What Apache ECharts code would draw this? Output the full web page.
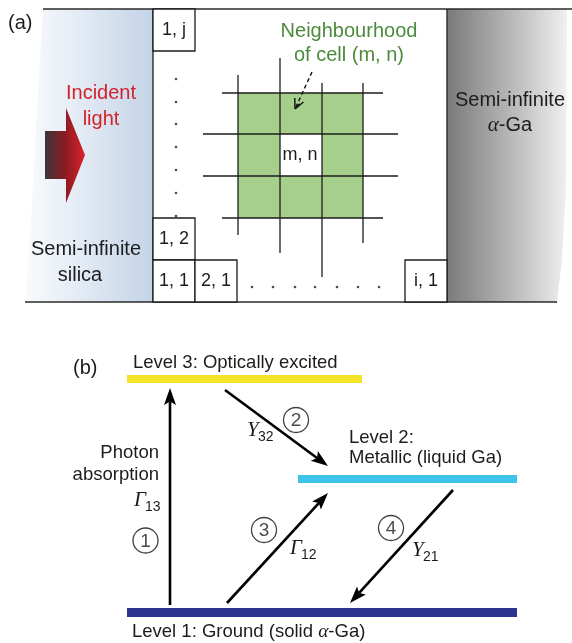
<!DOCTYPE html>
<html>
<head>
<meta charset="utf-8">
<script src="https://cdn.jsdelivr.net/npm/echarts@6/dist/echarts.min.js"></script>
<style>
  html, body { margin: 0; padding: 0; background: #ffffff; }
  #chart { width: 572px; height: 643px; }
</style>
</head>
<body>
<div id="chart"></div>
<script>
// Diagram geometry is expressed in diagram units on a hidden 572 x 643 value plane.

// ---------- Panel (a): cellular model of the gallium / silica interface ----------
const frameLines = [[43, 9, 572, 9], [25, 302, 557, 302], [153, 9, 153, 302], [447, 9, 447, 302]];
const silicaOutline = [[43, 9], [153, 9], [153, 302], [25, 302], [31, 220], [37, 110]];
const galliumOutline = [[447, 9], [567, 9], [566, 190], [562, 260], [557, 302], [447, 302]];
const lightArrowOutline = [[45, 131], [66, 131], [66, 108], [85, 155], [66, 203], [66, 179], [45, 179]];

const boundaryCellLabels = ['1, j', '1, 2', '1, 1', '2, 1', 'i, 1'];
const boundaryCells = [[153, 9, 195, 51], [153, 218, 195, 260], [153, 260, 195, 302], [195, 260, 237, 302], [405, 260, 447, 302]];

const latticeCols = [238, 280, 322, 363];
const latticeRows = [93, 134, 176, 218];
const centreCell = [1, 1];
const latticeVLines = [[238, 75, 235], [280, 58, 253], [322, 83, 277], [363, 83, 243]];
const latticeHLines = [[93, 222, 383], [134, 203, 398], [176, 203, 398], [218, 222, 383]];
const columnDots = [[176, 79], [176, 102], [176, 124], [176, 147], [176, 170], [176, 193], [176, 216]];
const rowDots = [[252, 287], [273, 287], [295, 287], [315, 287], [337, 287], [358, 287], [379, 287]];
const pointerPath = [312, 72, 295, 109];

const panelTags = ['(a)', '(b)'];
const panelTagAnchors = [[8, 23], [73, 368]];
const incidentLines = ['Incident', 'light'];
const incidentAnchors = [[101, 93], [101, 119]];
const silicaLines = ['Semi-infinite', 'silica'];
const silicaAnchors = [[86, 249], [80, 275]];
const galliumLines = ['Semi-infinite', '{a|α}-Ga'];
const galliumAnchors = [[510, 100], [510, 125]];
const neighbourhoodLines = ['Neighbourhood', 'of cell (m, n)'];
const neighbourhoodAnchors = [[349, 31], [349, 55]];
const centreLabel = 'm, n';
const centreAnchor = [300, 155];

// ---------- Panel (b): three-level transition scheme ----------
const levelSpans = [[127, 362, 379], [298, 517, 479], [127, 517, 612.5]];
const levelLabels = ['Level 3: Optically excited', 'Level 2:', 'Metallic (liquid Ga)', 'Level 1: Ground (solid {a|α}-Ga)'];
const levelLabelAnchors = [[133, 363], [349, 438], [349, 458], [132, 632]];
const transitionPaths = [[170, 605, 170, 388], [225, 390, 328, 466], [227, 603, 328, 493], [453, 490, 350, 603]];
const transitionNumbers = ['1', '2', '3', '4'];
const transitionMarkers = [[145.5, 540.5], [296, 420], [264, 530], [391, 528]];
const rateSymbols = ['Γ', 'Y', 'Γ', 'Y'];
const rateIndices = ['13', '32', '12', '21'];
const rateAnchors = [[134, 500], [247, 430], [290, 548], [412, 550]];
const absorptionLines = ['Photon', 'absorption'];
const absorptionAnchors = [[159, 453], [159, 475]];

// ---------- styles ----------
const SANS = '"Liberation Sans", Arial, Helvetica, sans-serif';
const SERIF = '"Liberation Serif", "DejaVu Serif", serif';
const INK = '#1c1c1c';
const levelColors = ['#f3e42a', '#3fc4e9', '#2b3590'];
const levelWidths = [8, 8, 9];

const chart = echarts.init(document.getElementById('chart'), null, { renderer: 'canvas' });

function pt(api, x, y) { return api.coord([x, y]); }
function segment(api, x1, y1, x2, y2, style) {
  const a = pt(api, x1, y1), b = pt(api, x2, y2);
  return { type: 'line', shape: { x1: a[0], y1: a[1], x2: b[0], y2: b[1] }, style: style };
}
function polygonOf(api, pts, style) {
  return { type: 'polygon', shape: { points: pts.map(p => pt(api, p[0], p[1])) }, style: style };
}
function textAt(api, x, y, text, font, fill, align, rich) {
  const p = pt(api, x, y);
  return { type: 'text', style: { x: p[0], y: p[1], text: text, font: font, fill: fill,
    align: align || 'center', verticalAlign: 'middle', rich: rich || {} } };
}
function arrow(api, path, headLen, headHalf, lineW) {
  const a = pt(api, path[0], path[1]), b = pt(api, path[2], path[3]);
  const dx = b[0] - a[0], dy = b[1] - a[1], len = Math.hypot(dx, dy);
  const ux = dx / len, uy = dy / len, px = -uy, py = ux;
  const base = [b[0] - ux * headLen, b[1] - uy * headLen];
  const notch = [b[0] - ux * headLen * 0.8, b[1] - uy * headLen * 0.8];
  return { type: 'group', children: [
    { type: 'line', shape: { x1: a[0], y1: a[1], x2: notch[0], y2: notch[1] }, style: { stroke: '#000', lineWidth: lineW } },
    { type: 'polygon', shape: { points: [b, [base[0] + px * headHalf, base[1] + py * headHalf], notch, [base[0] - px * headHalf, base[1] - py * headHalf]] },
      style: { fill: '#000' } }
  ] };
}

const alphaRich = (size) => ({ a: { font: 'italic ' + (size + 1) + 'px ' + SERIF, fill: INK } });

const greenCells = [];
for (let i = 0; i < 3; i++) for (let j = 0; j < 3; j++) {
  if (i === centreCell[0] && j === centreCell[1]) continue;
  greenCells.push([i, j]);
}

const option = {
  animation: false,
  backgroundColor: '#ffffff',
  grid: { left: 0, right: 0, top: 0, bottom: 0 },
  xAxis: { type: 'value', min: 0, max: 572, show: false },
  yAxis: { type: 'value', min: 0, max: 643, inverse: true, show: false },
  series: [
    // half-spaces either side of the slab
    {
      type: 'custom', name: 'media', coordinateSystem: 'cartesian2d', silent: true,
      data: [[0, 0], [1, 0]],
      renderItem: (params, api) => {
        if (params.dataIndex === 0) {
          return polygonOf(api, silicaOutline, { fill: new echarts.graphic.LinearGradient(0, 0, 1, 0, [
            { offset: 0, color: '#f9fbfd' }, { offset: 0.45, color: '#e2eaf4' }, { offset: 1, color: '#c3d3e7' }]) });
        }
        return polygonOf(api, galliumOutline, { fill: new echarts.graphic.LinearGradient(0, 0, 1, 0, [
          { offset: 0, color: '#7a7a7a' }, { offset: 0.5, color: '#b4b4b4' }, { offset: 1, color: '#f0f0f0' }]) });
      }
    },
    // incoming light
    {
      type: 'custom', name: 'light', coordinateSystem: 'cartesian2d', silent: true,
      data: [[0, 0]],
      renderItem: (params, api) => polygonOf(api, lightArrowOutline, { fill: new echarts.graphic.LinearGradient(0, 0, 1, 0, [
        { offset: 0, color: '#3a3638' }, { offset: 0.5, color: '#8c1a22' }, { offset: 1, color: '#d7222b' }]) })
    },
    // neighbourhood cells
    {
      type: 'custom', name: 'neighbourhood', coordinateSystem: 'cartesian2d', silent: true,
      data: greenCells,
      renderItem: (params, api) => {
        const c = greenCells[params.dataIndex];
        const a = pt(api, latticeCols[c[0]], latticeRows[c[1]]);
        const b = pt(api, latticeCols[c[0] + 1], latticeRows[c[1] + 1]);
        return { type: 'rect', shape: { x: a[0], y: a[1], width: b[0] - a[0], height: b[1] - a[1] }, style: { fill: '#a7cf8c' } };
      }
    },
    // lattice lines
    {
      type: 'custom', name: 'lattice', coordinateSystem: 'cartesian2d', silent: true,
      data: latticeVLines.concat(latticeHLines).map((_, k) => [k, 0]),
      renderItem: (params, api) => {
        const k = params.dataIndex, st = { stroke: INK, lineWidth: 1.3 };
        if (k < latticeVLines.length) {
          const v = latticeVLines[k];
          return segment(api, v[0], v[1], v[0], v[2], st);
        }
        const h = latticeHLines[k - latticeVLines.length];
        return segment(api, h[1], h[0], h[2], h[0], st);
      }
    },
    // slab boundaries
    {
      type: 'custom', name: 'frame', coordinateSystem: 'cartesian2d', silent: true,
      data: frameLines.map((_, k) => [k, 0]),
      renderItem: (params, api) => {
        const f = frameLines[params.dataIndex];
        return segment(api, f[0], f[1], f[2], f[3], { stroke: '#2a2a2a', lineWidth: 1.4 });
      }
    },
    // boundary cells with indices
    {
      type: 'custom', name: 'cells', coordinateSystem: 'cartesian2d', silent: true,
      data: boundaryCells.map((_, k) => [k, 0]),
      renderItem: (params, api) => {
        const b = boundaryCells[params.dataIndex];
        const a = pt(api, b[0], b[1]), c = pt(api, b[2], b[3]);
        const mid = [(b[0] + b[2]) / 2, (b[1] + b[3]) / 2 + 0.5];
        return { type: 'group', children: [
          { type: 'rect', shape: { x: a[0], y: a[1], width: c[0] - a[0], height: c[1] - a[1] },
            style: { fill: '#ffffff', stroke: INK, lineWidth: 1.3 } },
          textAt(api, mid[0], mid[1], boundaryCellLabels[params.dataIndex], '18px ' + SANS, INK)
        ] };
      }
    },
    // ellipsis dots along the column and the row
    {
      type: 'scatter', name: 'dots', symbol: 'circle', symbolSize: 2.6, silent: true,
      itemStyle: { color: '#222' },
      data: columnDots.concat(rowDots)
    },
    // pointer to the neighbourhood
    {
      type: 'custom', name: 'pointer', coordinateSystem: 'cartesian2d', silent: true,
      data: [[0, 0]],
      renderItem: (params, api) => {
        const a = pt(api, pointerPath[0], pointerPath[1]), b = pt(api, pointerPath[2], pointerPath[3]);
        const dx = b[0] - a[0], dy = b[1] - a[1], L = Math.hypot(dx, dy);
        const ux = dx / L, uy = dy / L;
        const barb = (ang, len) => {
          const c = Math.cos(ang), s = Math.sin(ang);
          return [b[0] - len * (ux * c - uy * s), b[1] - len * (uy * c + ux * s)];
        };
        const l1 = barb(0.45, 11), l2 = barb(-0.45, 11), m1 = barb(0.3, 7);
        const st = { stroke: '#111', lineWidth: 1.4 };
        return { type: 'group', children: [
          { type: 'line', shape: { x1: a[0], y1: a[1], x2: b[0], y2: b[1] }, style: { stroke: '#111', lineWidth: 1.4, lineDash: [4, 3] } },
          { type: 'line', shape: { x1: b[0], y1: b[1], x2: l1[0], y2: l1[1] }, style: st },
          { type: 'line', shape: { x1: b[0], y1: b[1], x2: l2[0], y2: l2[1] }, style: st },
          { type: 'line', shape: { x1: b[0] + ux * -3, y1: b[1] + uy * -3, x2: m1[0], y2: m1[1] }, style: st }
        ] };
      }
    },
    // panel (a) annotations
    {
      type: 'custom', name: 'labelsA', coordinateSystem: 'cartesian2d', silent: true,
      data: [[0, 0]],
      renderItem: (params, api) => {
        const f = '20px ' + SANS, kids = [];
        kids.push(textAt(api, panelTagAnchors[0][0], panelTagAnchors[0][1], panelTags[0], f, INK, 'left'));
        incidentLines.forEach((t, k) => kids.push(textAt(api, incidentAnchors[k][0], incidentAnchors[k][1], t, f, '#d2232c')));
        silicaLines.forEach((t, k) => kids.push(textAt(api, silicaAnchors[k][0], silicaAnchors[k][1], t, f, INK)));
        galliumLines.forEach((t, k) => kids.push(textAt(api, galliumAnchors[k][0], galliumAnchors[k][1], t, f, INK, 'center', alphaRich(20))));
        neighbourhoodLines.forEach((t, k) => kids.push(textAt(api, neighbourhoodAnchors[k][0], neighbourhoodAnchors[k][1], t, f, '#4c8a3c')));
        kids.push(textAt(api, centreAnchor[0], centreAnchor[1], centreLabel, '18px ' + SANS, INK));
        return { type: 'group', children: kids };
      }
    },
    // energy levels
    {
      type: 'custom', name: 'levels', coordinateSystem: 'cartesian2d', silent: true,
      data: levelSpans.map(s => [s[0], s[2]]),
      renderItem: (params, api) => {
        const s = levelSpans[params.dataIndex];
        return segment(api, s[0], s[2], s[1], s[2], { stroke: levelColors[params.dataIndex], lineWidth: levelWidths[params.dataIndex] });
      }
    },
    // transitions
    {
      type: 'custom', name: 'transitions', coordinateSystem: 'cartesian2d', silent: true,
      data: transitionPaths.map(p => [p[0], p[1]]),
      renderItem: (params, api) => arrow(api, transitionPaths[params.dataIndex], 17, 6, 2.6)
    },
    // transition numbers
    {
      type: 'scatter', name: 'markers', symbol: 'circle', symbolSize: 25, silent: true,
      itemStyle: { color: '#ffffff', borderColor: '#111', borderWidth: 1.3 },
      label: { show: true, position: 'inside', formatter: (p) => transitionNumbers[p.dataIndex],
        fontFamily: SANS, fontSize: 19, color: INK, offset: [0, 1] },
      data: transitionMarkers
    },
    // panel (b) annotations
    {
      type: 'custom', name: 'labelsB', coordinateSystem: 'cartesian2d', silent: true,
      data: [[0, 0]],
      renderItem: (params, api) => {
        const f = '18.5px ' + SANS, kids = [];
        kids.push(textAt(api, panelTagAnchors[1][0], panelTagAnchors[1][1], panelTags[1], '20px ' + SANS, INK, 'left'));
        levelLabels.forEach((t, k) => kids.push(textAt(api, levelLabelAnchors[k][0], levelLabelAnchors[k][1], t, f, INK, 'left', alphaRich(18.5))));
        absorptionLines.forEach((t, k) => kids.push(textAt(api, absorptionAnchors[k][0], absorptionAnchors[k][1], t, f, INK, 'right')));
        rateSymbols.forEach((sym, k) => {
          const a = rateAnchors[k];
          kids.push(textAt(api, a[0], a[1], sym, 'italic 21px ' + SERIF, INK, 'left'));
          kids.push(textAt(api, a[0] + 11, a[1] + 7, rateIndices[k], '14px ' + SANS, INK, 'left'));
        });
        return { type: 'group', children: kids };
      }
    }
  ]
};

chart.setOption(option);
</script>
</body>
</html>
